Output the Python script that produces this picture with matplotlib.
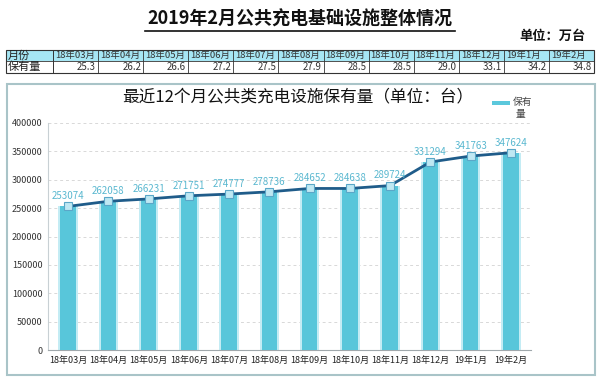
import matplotlib
matplotlib.use("Agg")
import matplotlib.pyplot as plt
from matplotlib.patches import Rectangle
import numpy as np

plt.rcParams['font.family'] = ['Noto Sans CJK SC', 'DejaVu Sans']

title = "2019年2月公共充电基础设施整体情况"
unit_text = "单位：万台"
table_months = ["18年03月", "18年04月", "18年05月", "18年06月", "18年07月", "18年08月",
                "18年09月", "18年10月", "18年11月", "18年12月", "19年1月", "19年2月"]
table_values = [25.3, 26.2, 26.6, 27.2, 27.5, 27.9, 28.5, 28.5, 29.0, 33.1, 34.2, 34.8]

chart_title = "最近12个月公共类充电设施保有量（单位：台）"
categories = ["18年03月", "18年04月", "18年05月", "18年06月", "18年07月", "18年08月",
              "18年09月", "18年10月", "18年11月", "18年12月", "19年1月", "19年2月"]
stock = [253074, 262058, 266231, 271751, 274777, 278736,
         284652, 284638, 289724, 331294, 341763, 347624]
legend_label = "保有\n量"
y_ticks = [0, 50000, 100000, 150000, 200000, 250000, 300000, 350000, 400000]

W, H = 600, 377
fig = plt.figure(figsize=(6, 3.77), dpi=100)
fig.patch.set_facecolor("white")

# overlay in pixel coords
ov = fig.add_axes([0, 0, 1, 1])
ov.set_xlim(0, W)
ov.set_ylim(H, 0)
ov.axis("off")

# title
ov.text(300, 19, title, ha="center", va="center", fontsize=13, fontweight="bold", color="#111111")
ov.plot([145, 455], [31, 31], color="#111111", lw=1.2)
ov.text(586, 36, unit_text, ha="right", va="center", fontsize=9.5, fontweight="bold", color="#111111")

# table
tx0, tx1 = 6, 594
ty0, ty1, ty2 = 50, 61, 73
first_w = 47
cw = (tx1 - tx0 - first_w) / len(table_months)
ov.add_patch(Rectangle((tx0, ty0), tx1 - tx0, ty1 - ty0, facecolor="#a6e6f4", edgecolor="none"))
ov.add_patch(Rectangle((tx0, ty0), tx1 - tx0, ty2 - ty0, facecolor="none", edgecolor="#333333", lw=0.8))
ov.plot([tx0, tx1], [ty1, ty1], color="#333333", lw=0.6)
ov.plot([tx0 + first_w] * 2, [ty0, ty2], color="#333333", lw=0.6)
for i in range(len(table_months)):
    x = tx0 + first_w + i * cw
    ov.plot([x, x], [ty0, ty2], color="#333333", lw=0.6)
    ov.text(x + 2, (ty0 + ty1) / 2, table_months[i], ha="left", va="center", fontsize=6.8, color="#333333")
    ov.text(x + cw - 2, (ty1 + ty2) / 2, f"{table_values[i]:.1f}", ha="right", va="center",
            fontsize=7, color="#333333")
ov.text(tx0 + 2, (ty0 + ty1) / 2, "月份", ha="left", va="center", fontsize=8, color="#222222")
ov.text(tx0 + 2, (ty1 + ty2) / 2, "保有量", ha="left", va="center", fontsize=8, color="#222222")

# chart frame
ov.add_patch(Rectangle((7, 84), 588, 291, facecolor="none", edgecolor="#a9c4c8", lw=1.5))
ov.text(298, 97, chart_title, ha="center", va="center", fontsize=12, color="#111111")
ov.add_patch(Rectangle((492, 101), 18, 4, facecolor="#5bc8dc", edgecolor="none"))
ov.text(513, 97, "保有", ha="left", va="top", fontsize=7, color="#444444")
ov.text(520, 109, "量", ha="center", va="top", fontsize=7, color="#444444")

# main plot
ax = fig.add_axes([48 / W, 1 - 350 / H, (531 - 48) / W, (350 - 123) / H])
ax.set_zorder(2)
x = np.arange(len(categories))
ax.bar(x, stock, width=0.48, color="#c4ecf4", zorder=2)
ax.bar(x, stock, width=0.38, color="#58c6da", zorder=3)
ax.plot(x, stock, color="#1f5c8a", lw=2, zorder=4)
ax.plot(x, stock, ls="none", marker="s", ms=6, mfc="#bfe8f3", mec="#5aa7c8", mew=0.8, zorder=5)
for xi, v in zip(x, stock):
    ax.text(xi, v + 9000, f"{v}", ha="center", va="bottom", fontsize=7, color="#5ab8d0", zorder=6)
ax.set_xlim(-0.5, len(categories) - 0.5)
ax.set_ylim(0, 400000)
ax.set_yticks(y_ticks)
ax.set_yticklabels([str(t) for t in y_ticks], fontsize=6.5, color="#333333")
ax.set_xticks(x)
ax.set_xticklabels(categories, fontsize=6.5, color="#222222")
ax.tick_params(length=0, pad=4)
ax.yaxis.grid(True, ls=(0, (3, 3)), color="#d8d8d8", lw=0.7)
ax.set_axisbelow(True)
for s in ["top", "right"]:
    ax.spines[s].set_visible(False)
ax.spines["left"].set_color("#c8d0d4")
ax.spines["bottom"].set_color("#a0a8ac")
ax.patch.set_alpha(0)

fig.savefig("out.png", dpi=100)
